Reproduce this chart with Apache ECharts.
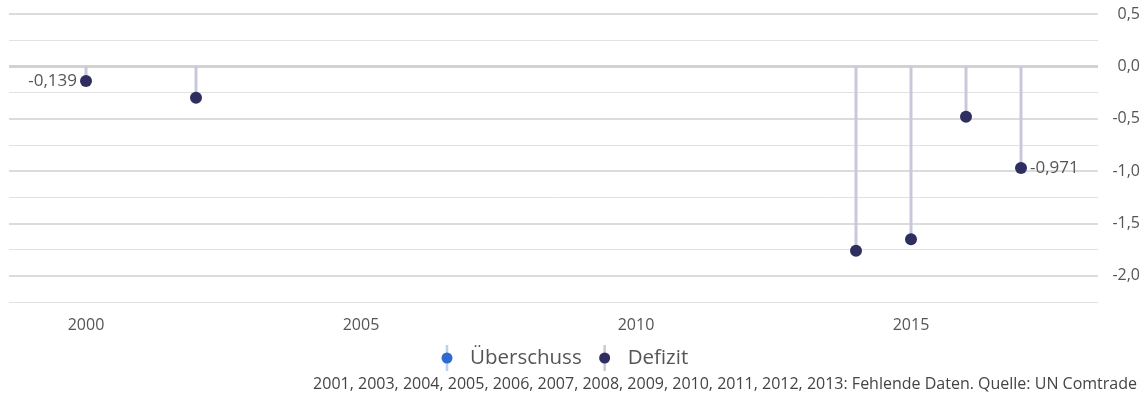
<!DOCTYPE html>
<html>
<head>
<meta charset="utf-8">
<script src="https://cdn.jsdelivr.net/npm/echarts@6/dist/echarts.min.js"></script>
<style>html,body{margin:0;padding:0;background:#fff}#c{width:1144px;height:406px}</style>
</head>
<body>
<div id="c"></div>
<script>
const years = [2000, 2002, 2014, 2015, 2016, 2017];
const deficit = [-0.139, -0.30, -1.76, -1.65, -0.48, -0.971];
const surplusYears = [];
const surplus = [];
const xTickLabels = [2000, 2005, 2010, 2015];
const yTickLabels = [0.5, 0, -0.5, -1, -1.5, -2];
const labeledYears = [2000, 2017];
const footnote = '2001, 2003, 2004, 2005, 2006, 2007, 2008, 2009, 2010, 2011, 2012, 2013: Fehlende Daten. Quelle: UN Comtrade';

const FONT = '"Open Sans", "Noto Sans", sans-serif';
const fmt = v => String(v).replace('.', ',');
const fmt1 = v => v.toFixed(1).replace('.', ',');

function icon(stem, dot) {
  const svg = '<svg xmlns="http://www.w3.org/2000/svg" width="12" height="26"><rect x="4.75" y="0" width="2.5" height="26" fill="' + stem + '"/><circle cx="6" cy="13" r="5.5" fill="' + dot + '"/></svg>';
  return 'image://data:image/svg+xml;charset=utf-8,' + encodeURIComponent(svg);
}

const chart = echarts.init(document.getElementById('c'));
chart.setOption({
  animation: false,
  grid: {left: 9, right: 46, top: 14, bottom: 104},
  xAxis: {
    type: 'value', min: 1998.6, max: 2018.4,
    axisLine: {show: false}, axisTick: {show: false}, splitLine: {show: false},
    axisLabel: {customValues: xTickLabels, margin: 15, color: '#555', fontSize: 16, fontFamily: FONT, formatter: v => String(v)}
  },
  yAxis: {
    type: 'value', position: 'right', min: -2.25, max: 0.5, interval: 0.25,
    axisLine: {show: false}, axisTick: {show: false},
    splitLine: {lineStyle: {color: '#e2e2e2', width: 1}},
    axisLabel: {customValues: yTickLabels, align: 'right', margin: 42, color: '#555', fontSize: 16, fontFamily: FONT, formatter: v => fmt1(v)}
  },
  legend: {
    bottom: 30, left: 436, itemWidth: 12, itemHeight: 26, itemGap: 17,
    textStyle: {color: '#555', fontSize: 20.5, fontFamily: FONT, padding: [0, 0, 0, 12]},
    data: [
      {name: 'Überschuss', icon: icon('#bcd0f0', '#2f6ad3')},
      {name: 'Defizit', icon: icon('#c8c8da', '#2e2e60')}
    ]
  },
  graphic: [{
    type: 'text', right: 7, top: 376,
    style: {text: footnote, fill: '#444', fontSize: 16, fontFamily: FONT}
  }],
  series: [
    {
      name: 'Überschuss', type: 'scatter', symbolSize: 12, itemStyle: {color: '#2f6ad3', opacity: 1},
      data: surplusYears.map((y, i) => [y, surplus[i]])
    },
    {
      name: 'Defizit', type: 'bar', barWidth: 3, silent: true,
      itemStyle: {color: '#c8c8da'},
      data: years.map((y, i) => [y, deficit[i]]),
      markLine: {
        silent: true, symbol: 'none', label: {show: false}, z: 0,
        data: yTickLabels.map(v => ({yAxis: v, lineStyle: {color: v === 0 ? '#d2d2d2' : '#dcdcdc', width: v === 0 ? 3 : 2, type: 'solid'}}))
      },
      z: 1
    },
    {
      name: 'Defizit', type: 'scatter', symbolSize: 12, itemStyle: {color: '#2e2e60', opacity: 1}, z: 5,
      label: {color: '#555', fontSize: 17, fontFamily: FONT, distance: 3},
      data: years.map((y, i) => ({
        value: [y, deficit[i]],
        label: {
          show: labeledYears.includes(y),
          position: y === labeledYears[0] ? 'left' : 'right',
          formatter: p => fmt(p.value[1])
        }
      }))
    }
  ]
});
</script>
</body>
</html>
